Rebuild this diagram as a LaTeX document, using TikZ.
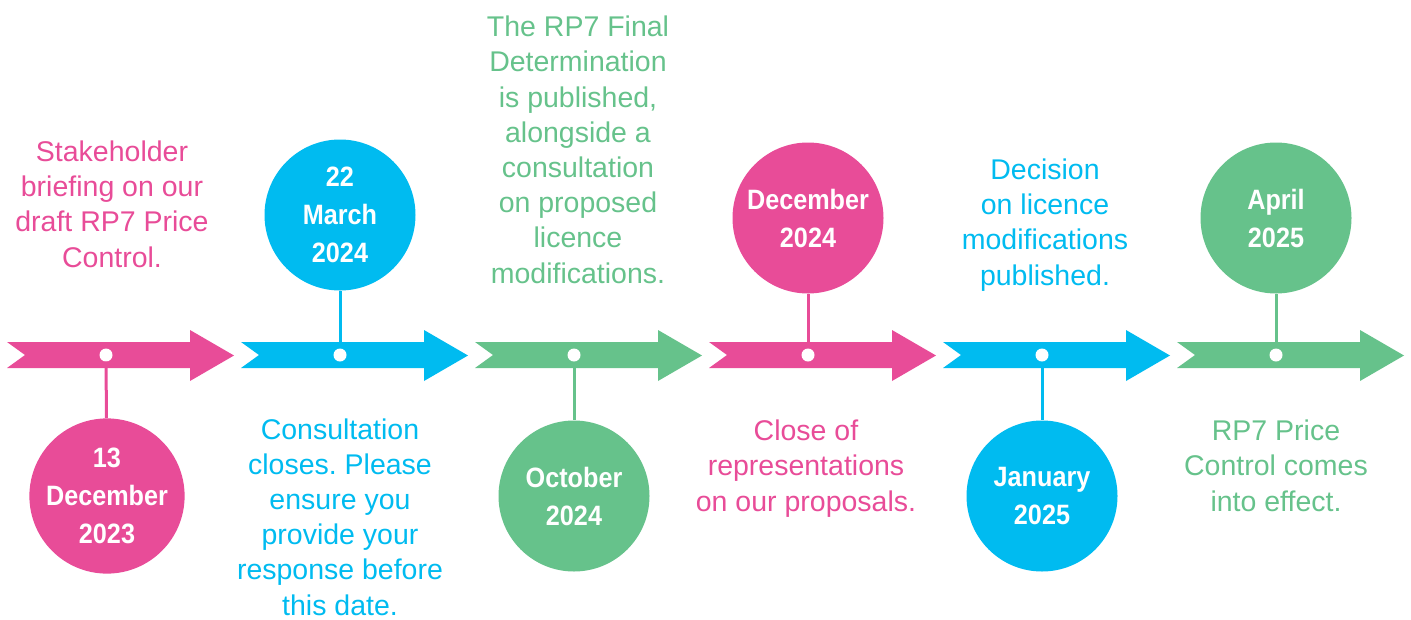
\documentclass[tikz,border=0pt]{standalone}
\usepackage{fontspec}
\setmainfont{Liberation Sans}
\newfontfamily\datefont[FakeStretch=0.9]{Liberation Sans}
\frenchspacing

\definecolor{rpink}{RGB}{232,76,152}
\definecolor{rblue}{RGB}{0,187,240}
\definecolor{rgreen}{RGB}{102,194,139}

\tikzset{
    datecirc/.style={circle, fill=#1, minimum size=151pt, inner sep=0pt, align=center,
        text=white, font=\datefont\bfseries\fontsize{28}{38}\selectfont},
    stepdot/.style={circle, fill=white, minimum size=13pt, inner sep=0pt},
    stem/.style={#1, line width=3pt},
    note/.style={text=#1, align=center, anchor=base, inner sep=0pt,
        font=\fontsize{28.5}{35.2}\selectfont}
}

\begin{document}
\begin{tikzpicture}[x=1pt, y=-1pt]
    \useasboundingbox (0,0) rectangle (1411,619);

    % arrows of the time line
    \foreach \i/\c in {0/rpink, 1/rblue, 2/rgreen, 3/rpink, 4/rblue, 5/rgreen} {
        \pgfmathsetmacro\xa{7+234*\i}
        \fill[\c] (\xa,342) -- (\xa+183,342) -- (\xa+183,330) -- (\xa+227,355.5)
            -- (\xa+183,381) -- (\xa+183,368) -- (\xa,368) -- (\xa+18,355) -- cycle;
    }

    % dates
    \node[datecirc=rpink]  (date1) at (107,496) {13\\December\\2023};
    \node[datecirc=rblue]  (date2) at (340,215) {22\\March\\2024};
    \node[datecirc=rgreen] (date3) at (574,496) {October\\2024};
    \node[datecirc=rpink]  (date4) at (808,218) {December\\2024};
    \node[datecirc=rblue]  (date5) at (1042,496) {January\\2025};
    \node[datecirc=rgreen] (date6) at (1276,218) {April\\2025};

    % dots on the arrows
    \node[stepdot] (dot1) at (106,355) {};
    \node[stepdot] (dot2) at (340,355) {};
    \node[stepdot] (dot3) at (574,355) {};
    \node[stepdot] (dot4) at (808,355) {};
    \node[stepdot] (dot5) at (1042,355) {};
    \node[stepdot] (dot6) at (1276,355) {};

    \draw[stem=rpink]  (dot1) -- (date1);
    \draw[stem=rblue]  (dot2) -- (date2);
    \draw[stem=rgreen] (dot3) -- (date3);
    \draw[stem=rpink]  (dot4) -- (date4);
    \draw[stem=rblue]  (dot5) -- (date5);
    \draw[stem=rgreen] (dot6) -- (date6);

    % texts (base = baseline of the last line)
    \node[note=rpink] (txt1) at (112,267) {Stakeholder\\briefing on our\\draft RP7 Price\\Control.};
    \node[note=rblue] (txt2) at (340,615) {Consultation\\closes. Please\\ensure you\\provide your\\response before\\this date.};
    \node[note=rgreen] (txt3) at (578,283) {The RP7 Final\\Determination\\is published,\\alongside a\\consultation\\on proposed\\licence\\modifications.};
    \node[note=rpink] (txt4) at (806,511) {Close of\\representations\\on our proposals.};
    \node[note=rblue] (txt5) at (1045,285) {Decision\\on licence\\modifications\\published.};
    \node[note=rgreen] (txt6) at (1276,511) {RP7 Price\\Control comes\\into effect.};
\end{tikzpicture}
\end{document}
